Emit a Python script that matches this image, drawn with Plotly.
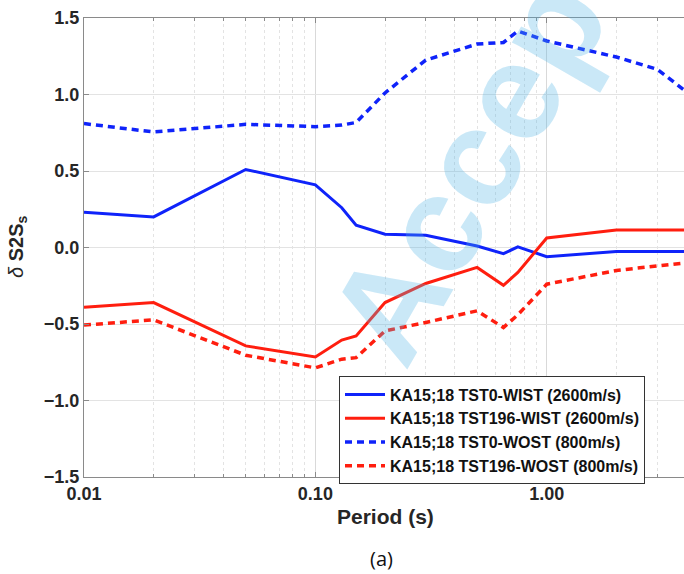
import numpy as np
import plotly.graph_objects as go

periods = [0.01, 0.02, 0.05, 0.1, 0.13, 0.15, 0.2, 0.3, 0.5, 0.65, 0.75, 1.0, 2.0, 3.0, 4.0]
tst0_wist = [0.23, 0.20, 0.51, 0.41, 0.26, 0.146, 0.087, 0.08, 0.01, -0.04, 0.004, -0.06, -0.026, -0.026, -0.026]
tst196_wist = [-0.39, -0.36, -0.643, -0.715, -0.605, -0.578, -0.36, -0.235, -0.13, -0.247, -0.163, 0.062, 0.115, 0.115, 0.115]
tst0_wost = [0.81, 0.755, 0.805, 0.79, 0.80, 0.817, 1.01, 1.225, 1.33, 1.34, 1.415, 1.35, 1.245, 1.165, 1.02]
tst196_wost = [-0.507, -0.473, -0.704, -0.787, -0.73, -0.72, -0.545, -0.49, -0.414, -0.523, -0.44, -0.24, -0.15, -0.12, -0.10]

names = ["KA15;18 TST0-WIST (2600m/s)", "KA15;18 TST196-WIST (2600m/s)",
         "KA15;18 TST0-WOST (800m/s)", "KA15;18 TST196-WOST (800m/s)"]
x_tickvals = [0.01, 0.1, 1.0]
x_ticktext = ["0.01", "0.10", "1.00"]
y_tickvals = [-1.5, -1.0, -0.5, 0.0, 0.5, 1.0, 1.5]

BLUE = "rgb(15,35,250)"
RED = "rgb(255,30,15)"
FONT = "Liberation Sans"
TXT = "#262626"

fig = go.Figure()
series = [(tst0_wist, BLUE, "solid", 3), (tst196_wist, RED, "solid", 3),
          (tst0_wost, BLUE, "7px,5px", 3.5), (tst196_wost, RED, "7px,5px", 3.5)]
for (vals, col, dash, w), nm in zip(series, names):
    fig.add_trace(go.Scatter(x=periods, y=vals, mode="lines", name=nm,
                             line=dict(color=col, width=w, dash=dash)))

minor_vals = [m * 10.0 ** d for d in (-2, -1, 0) for m in range(2, 10) if m * 10.0 ** d < 4]

fig.update_layout(
    width=684, height=574,
    margin=dict(l=84, r=0, t=18, b=97),
    plot_bgcolor="white", paper_bgcolor="white",
    font=dict(family=FONT, color=TXT),
    showlegend=True,
    legend=dict(x=0.425, y=0.219, xanchor="left", yanchor="top",
                bgcolor="white", bordercolor="#333333", borderwidth=1,
                font=dict(family=FONT, size=16, color="#111111", weight="bold"),
                tracegroupgap=0, itemwidth=40),
    xaxis=dict(type="log", range=[-2, np.log10(3.92)],
               tickvals=x_tickvals, ticktext=x_ticktext,
               tickfont=dict(size=18, family=FONT, color=TXT, weight="bold"),
               showline=True, linecolor="#8a8a8a", linewidth=1, mirror="ticks",
               ticks="inside", ticklen=5, tickcolor="#8a8a8a",
               showgrid=True, gridcolor="#d9d9d9", gridwidth=1,
               minor=dict(tickvals=minor_vals, ticks="inside", ticklen=3,
                          tickcolor="#8a8a8a", showgrid=True,
                          gridcolor="#e3e3e3", griddash="dot", gridwidth=1),
               zeroline=False),
    yaxis=dict(range=[-1.5, 1.5], tickvals=y_tickvals, tickformat=".1f",
               tickfont=dict(size=18, family=FONT, color=TXT, weight="bold"),
               showline=True, linecolor="#8a8a8a", linewidth=1,
               ticks="inside", ticklen=5, tickcolor="#8a8a8a",
               showgrid=True, gridcolor="#e3e3e3", gridwidth=1,
               zeroline=False),
)

fig.add_annotation(text="<b>Period (s)</b>", xref="paper", yref="paper",
                   x=0.503, y=-0.085, xanchor="center", yanchor="middle",
                   showarrow=False, font=dict(family=FONT, size=21, color=TXT))
fig.add_annotation(text="<i>δ</i> <b>S2S</b><sub><b>s</b></sub>", xref="paper", yref="paper",
                   x=-0.112, y=0.503, xanchor="center", yanchor="middle", textangle=-90,
                   showarrow=False, font=dict(family=FONT, size=20, color=TXT))
fig.add_annotation(text="(a)", xref="paper", yref="paper",
                   x=0.495, y=-0.178, xanchor="center", yanchor="middle",
                   showarrow=False, font=dict(family="Open Sans", size=20, color="#111111"))
fig.add_annotation(text="<b>Accepted</b>", xref="paper", yref="paper",
                   x=0.725, y=0.865, xanchor="center", yanchor="middle", textangle=-60,
                   showarrow=False,
                   font=dict(family=FONT, size=138, color="rgba(80,180,230,0.30)"))

fig.write_html("out.html")
